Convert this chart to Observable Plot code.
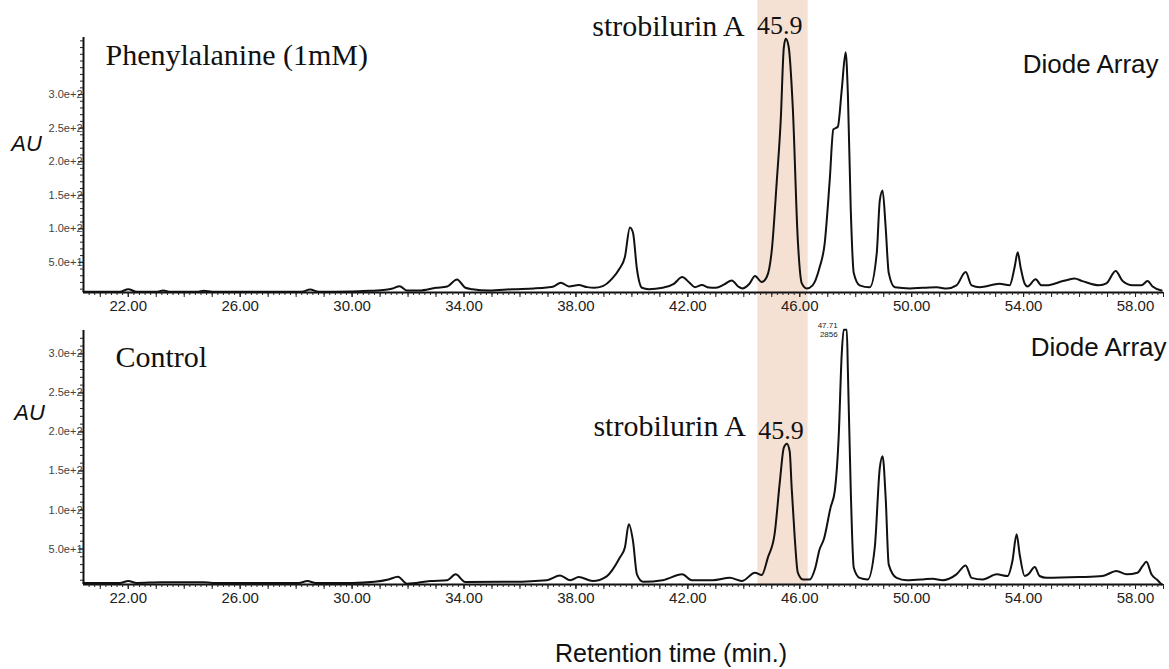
<!DOCTYPE html>
<html><head><meta charset="utf-8">
<script src="https://cdn.jsdelivr.net/npm/d3@7"></script>
<script src="https://cdn.jsdelivr.net/npm/@observablehq/plot@0.6"></script>
<style>
body{margin:0;background:#fff;width:1169px;height:669px;overflow:hidden;position:relative}
#chart svg{display:block}
.xtitle{position:absolute;left:671px;top:641px;transform:translateX(-50%);white-space:nowrap;font:25px "Liberation Sans",Arial,sans-serif;color:#111;line-height:25px}
</style></head><body><div id="chart"></div><div class="xtitle">Retention time (min.)</div>
<script>
// ---- data (retention time in min, absorbance in AU) ----
const phenylTime = [20.4,21.0,21.7,22.0,22.3,23.0,23.25,23.5,24.5,24.7,25.0,28.2,28.5,28.8,30.0,30.6,31.2,31.45,31.7,31.95,32.4,33.0,33.4,33.75,34.05,34.3,34.9,35.75,36.5,36.96,37.2,37.46,37.75,38.1,38.4,38.65,38.96,39.3,39.55,39.75,39.93,40.04,40.18,40.36,40.6,41.1,41.5,41.8,42.05,42.25,42.5,42.75,43.0,43.3,43.57,43.8,43.95,44.2,44.4,44.64,44.82,45.0,45.18,45.32,45.43,45.5,45.6,45.75,45.93,46.07,46.25,46.46,46.71,46.89,47.07,47.2,47.36,47.5,47.64,47.72,47.82,47.93,48.14,48.5,48.75,48.86,48.96,49.07,49.18,49.4,49.93,50.4,50.9,51.25,51.6,51.93,52.14,52.43,53.14,53.5,53.68,53.79,53.89,54.04,54.14,54.43,54.64,54.82,55.4,55.82,56.1,56.7,56.96,57.29,57.54,57.89,58.21,58.43,58.61,58.93];
const phenylAU = [6,6,6,10,6,6,8,6,6,7.5,6,6,9.5,6,6.5,7.5,9,11,14.5,8,8,12,14,24.5,12,10,8,10,11,12.5,14,19.7,14,16,13,12,14.5,26,40,58,102,94,40,12,10,12,18,28,20,13,16,12.5,12,17,23,14,11,18,29.6,20.6,28,68,172,262,370,383,372,281,83,19,11,15.7,42.5,78,172,248,252,307,363,300,132,34,15.7,12.7,63,142,157,102,34,12.7,11,12,12.7,11,15.7,35.5,15.7,13,18,15.7,43,65,43,18,14,24.6,15.7,15.7,22,25.7,22,15.7,18.5,37,22,15.7,15.7,22,14,8];

const controlTime = [20.4,21.7,22.0,22.3,23.2,24.7,25.0,28.1,28.4,28.7,30.0,30.8,31.3,31.64,31.96,32.8,33.4,33.7,34.04,35.75,36.96,37.43,37.8,38.1,38.6,39.1,39.57,39.75,39.89,40.04,40.18,40.4,41.1,41.8,42.14,42.9,43.5,43.93,44.4,44.64,44.86,45.1,45.29,45.43,45.54,45.64,45.71,45.82,45.93,46.11,46.36,46.54,46.71,46.86,47.1,47.25,47.39,47.5,47.57,47.68,47.72,47.82,47.93,48.14,48.43,48.68,48.86,48.96,49.07,49.18,49.46,49.82,50.4,50.75,51.1,51.6,51.93,52.14,52.54,53.04,53.43,53.6,53.75,53.86,54.04,54.18,54.4,54.57,54.82,56.0,56.82,57.32,57.68,58.07,58.25,58.39,58.57,58.79,58.93];
const controlAU = [6.5,6.5,9,6.5,7.5,7.5,6.5,6.5,9,6.5,6.5,8,11,14.5,5.5,9,10,17.5,7.7,8,10,16,10,14,9,15,39,52,81.7,60,17.5,8,10,17.5,10,10,13,9,19.6,16.7,39,69,137,180,185,175,129,64.5,19.6,11,11,24,49.6,62.4,103,124,193,300,331,331,278,128.6,26,13,11,51.7,154,169,115.8,30,13,10,11,12,10,17.5,29,13,11,17.5,15.4,34.6,68.8,43,15.4,18,27,15.4,13,14,15.4,21.8,17.5,19.6,28,33.7,17.5,10,4.7];

const panelTitles = ["Phenylalanine (1mM)", "Control"];
const detectorLabel = "Diode Array";
const yAxisLabel = "AU";
const strobilurinLabel = "strobilurin A";
const strobilurinRT = "45.9";
const highlightBand = [44.5, 46.3];           // retention-time window shaded
const controlPeakLabel = {t: 47.57, au: 331, text: "47.71\n2856"};
const xLabelTicks = d3.range(22, 59, 4);
const xMajorTicks = d3.range(21, 59.01, 1);
const xMinorTicks = d3.range(20.6, 59.0, 0.2);

// ---- layout ----
const W = 1169;
const xDomain = [20.4, 59.0];
const serif = "Liberation Serif, Times New Roman, serif";
const sans = "Liberation Sans, Arial, sans-serif";

function panel(cfg) {
  const {time, au, yDomain, height, marginTop, marginBottom, extendBandBottom,
         title, titleDx, titleDy, auDx, auDy, diodeDx, diodeDy, yLabelTicks, peakLabel, strobDy} = cfg;
  const frameH = height - marginTop - marginBottom;
  const k = (yDomain[1] - yDomain[0]) / frameH;
  const bandTop = yDomain[1] + marginTop * k;
  const bandBottom = extendBandBottom ? yDomain[0] - marginBottom * k : yDomain[0];
  const peakI = d3.maxIndex(au.map((v, i) => (time[i] > highlightBand[0] && time[i] < highlightBand[1]) ? v : -1));
  const strob = [{t: time[peakI], au: au[peakI]}];
  const yMinor = d3.range(10, yDomain[1], 10);
  const marks = [
    Plot.rect([highlightBand], {x1: d => d[0], x2: d => d[1], y1: () => bandBottom, y2: () => bandTop, fill: "#f5e1d3"}),
    Plot.ruleY([yDomain[0]], {stroke: "#111", strokeWidth: 2}),
    Plot.ruleX([xDomain[0]], {stroke: "#111", strokeWidth: 2}),
    Plot.axisX({ticks: xMinorTicks, tickFormat: () => "", tickSize: 3, label: null, stroke: "#222"}),
    Plot.axisX({ticks: xMajorTicks, tickFormat: () => "", tickSize: 5, label: null, stroke: "#222"}),
    Plot.axisX({ticks: xLabelTicks, tickFormat: d => d.toFixed(2), tickSize: 5, tickPadding: 3, label: null, fontSize: 15, fill: "#222", stroke: "#222"}),
    Plot.axisY({ticks: yMinor, tickFormat: () => "", tickSize: 3, label: null, stroke: "#222"}),
    Plot.axisY({ticks: yLabelTicks, tickFormat: d3.format(".1e"), tickSize: 0, tickPadding: 1, label: null, fontSize: 11, fill: "#444"}),
    Plot.axisY({ticks: yLabelTicks, tickFormat: () => "", tickSize: 5, label: null, stroke: "#222"}),
    Plot.line(au, {x: time, y: au, stroke: "#111", strokeWidth: 2, curve: "monotone-x"}),
    Plot.text([title], {text: d => d, frameAnchor: "top-left", textAnchor: "start", lineAnchor: "middle", dx: titleDx, dy: titleDy, fontFamily: serif, fontSize: 30, fill: "#111"}),
    Plot.text([yAxisLabel], {text: d => d, frameAnchor: "top-left", textAnchor: "middle", lineAnchor: "middle", dx: auDx, dy: auDy, fontFamily: sans, fontStyle: "italic", fontSize: 22, fill: "#111"}),
    Plot.text([detectorLabel], {text: d => d, frameAnchor: "top-right", textAnchor: "end", lineAnchor: "middle", dx: diodeDx, dy: diodeDy, fontFamily: sans, fontSize: 26, fill: "#111"}),
    Plot.text(strob, {x: "t", y: "au", text: () => strobilurinRT, dx: -6, dy: -13, fontFamily: serif, fontSize: 26, fill: "#111"}),
    Plot.text(strob, {x: "t", y: "au", text: () => strobilurinLabel, textAnchor: "end", dx: -41, dy: strobDy, fontFamily: serif, fontSize: 30, fill: "#111"})
  ];
  if (peakLabel) {
    marks.push(Plot.text([peakLabel], {x: "t", y: "au", text: "text", textAnchor: "end", dx: -6, dy: 0, fontSize: 8, fill: "#222", fontFamily: sans, lineHeight: 1.15}));
  }
  return Plot.plot({
    width: W, height, marginLeft: 83, marginRight: 6, marginTop, marginBottom,
    x: {domain: xDomain},
    y: {domain: yDomain},
    style: {fontFamily: sans, background: "transparent", color: "#222"},
    marks
  });
}

const topPanel = panel({
  time: phenylTime, au: phenylAU, yDomain: [5, 385], height: 318, marginTop: 37, marginBottom: 26,
  extendBandBottom: true, title: panelTitles[0], titleDx: 22, titleDy: 18,
  auDx: -57, auDy: 106, diodeDx: -5, diodeDy: 27, yLabelTicks: d3.range(50, 301, 50), strobDy: -12
});
const bottomPanel = panel({
  time: controlTime, au: controlAU, yDomain: [4.5, 330], height: 298, marginTop: 12, marginBottom: 32,
  extendBandBottom: false, title: panelTitles[1], titleDx: 32, titleDy: 27,
  auDx: -54, auDy: 82, diodeDx: 3, diodeDy: 17, yLabelTicks: d3.range(50, 301, 50), peakLabel: controlPeakLabel, strobDy: -17
});
document.getElementById("chart").append(topPanel, bottomPanel);
</script></body></html>
